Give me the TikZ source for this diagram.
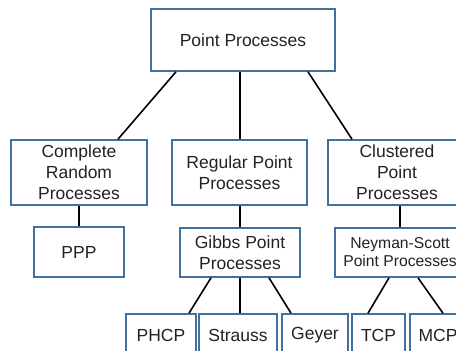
\documentclass[tikz,border=0pt]{standalone}
\usepackage{fontspec}
\setmainfont{Liberation Sans}
\definecolor{boxline}{HTML}{41719C}
\definecolor{txt}{HTML}{222222}
\begin{document}
\begin{tikzpicture}[x=1pt,y=-1pt,
  box/.style={draw=boxline,line width=1.6pt,fill=white,rectangle,inner sep=0pt,
    align=center,text=txt,font=\fontsize{17.5}{21}\selectfont},
  small/.style={font=\fontsize{15.7}{18}\selectfont},
  conn/.style={draw=black,line width=1.6pt}]
\useasboundingbox (0,0) rectangle (456,351);
\clip (0,0) rectangle (456,351);
\node[box,minimum width=184pt,minimum height=62pt] (top) at (243,40) {Point Processes};
\node[box,minimum width=136pt,minimum height=65pt] (complete) at (79,172.5) {Complete\\Random\\Processes};
\node[box,minimum width=135pt,minimum height=65pt] (regular) at (239.5,172.5) {Regular Point\\Processes};
\node[box,minimum width=138pt,minimum height=65pt] (clustered) at (397,172.5) {Clustered\\Point\\Processes};
\node[box,minimum width=90pt,minimum height=50pt] (ppp) at (79,252) {PPP};
\node[box,minimum width=120pt,minimum height=49pt] (gibbs) at (240,252.5) {Gibbs Point\\Processes};
\node[box,small,minimum width=130pt,minimum height=49pt] (neyman) at (400,252.5) {Neyman-Scott\\Point Processes};
\node[box,minimum width=70pt,minimum height=42pt] (phcp) at (161,335) {PHCP};
\node[box,minimum width=78pt,minimum height=42pt] (strauss) at (238,335) {Strauss};
\node[box,minimum width=66pt,minimum height=42pt] (geyer) at (315,335) {Geyer};
\node[box,minimum width=53pt,minimum height=42pt] (tcp) at (378.5,335) {TCP};
\node[box,minimum width=56pt,minimum height=42pt] (mcp) at (438,335) {MCP};
\draw[conn] ([xshift=-67pt]top.south) -- ([xshift=39pt]complete.north);
\draw[conn] ([xshift=-3pt]top.south) -- ([xshift=0.5pt]regular.north);
\draw[conn] ([xshift=65pt]top.south) -- ([xshift=-45pt]clustered.north);
\draw[conn] (complete.south) -- (ppp.north);
\draw[conn] ([xshift=0.5pt]regular.south) -- (gibbs.north);
\draw[conn] ([xshift=3pt]clustered.south) -- (neyman.north);
\draw[conn] ([xshift=-29pt]gibbs.south) -- ([xshift=28pt]phcp.north);
\draw[conn] (gibbs.south) -- ([xshift=2pt]strauss.north);
\draw[conn] ([xshift=29pt]gibbs.south) -- ([xshift=-24pt]geyer.north);
\draw[conn] ([xshift=-11pt]neyman.south) -- ([xshift=-10.5pt]tcp.north);
\draw[conn] ([xshift=18pt]neyman.south) -- ([xshift=5pt]mcp.north);
\end{tikzpicture}
\end{document}
